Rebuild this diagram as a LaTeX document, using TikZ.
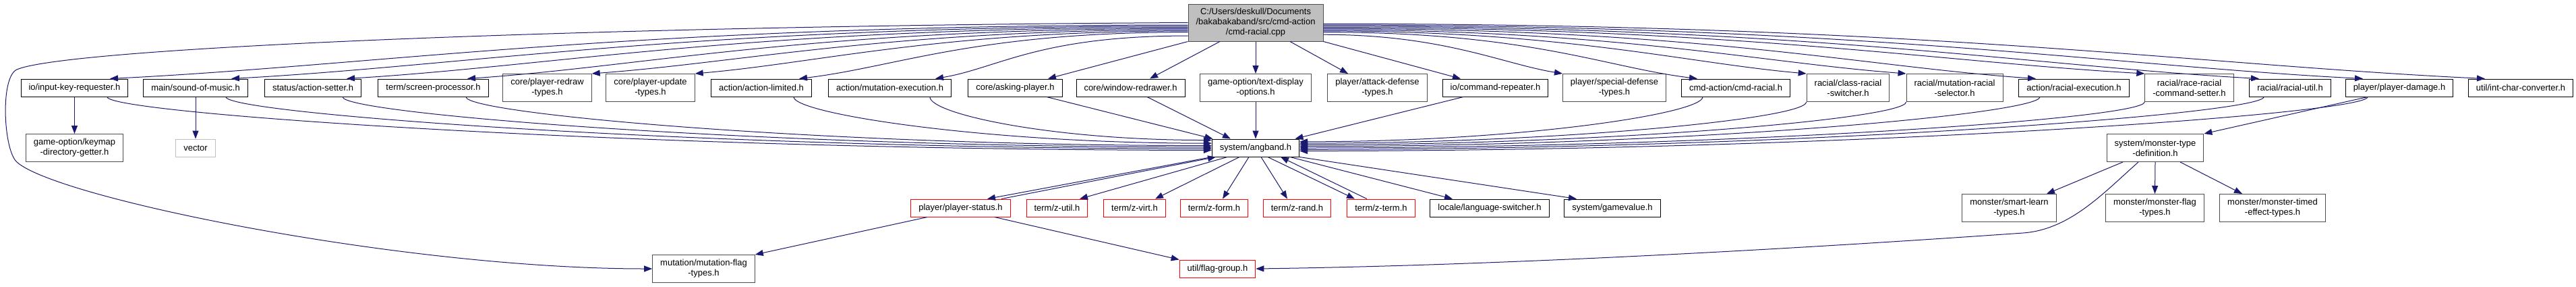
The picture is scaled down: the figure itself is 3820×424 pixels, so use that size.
\documentclass[tikz,border=0pt]{standalone}
\usepackage{fontspec}
\setmainfont{Liberation Sans}
\usetikzlibrary{arrows.meta,calc}

\definecolor{edgeblue}{HTML}{191970}
\definecolor{boxgray}{HTML}{BFBFBF}

\tikzset{
  file/.style={draw=black, fill=white, line width=1pt, inner xsep=11.5pt, inner ysep=2pt,
    minimum height=26pt, align=center, font=\fontsize{13}{15}\selectfont},
  file2/.style={file, draw=black!70, minimum height=41pt},
  trunc/.style={file, draw=red},
  sysfile/.style={file, draw=boxgray},
  dep/.style={draw=edgeblue, line width=1pt, -{Triangle[length=12pt,width=9pt]}},
}

\begin{document}
\begin{tikzpicture}[x=1pt, y=-1pt]
  \fill[white] (0,0) rectangle (3820,424);
  \useasboundingbox (0,0) rectangle (3820,424);

  % the source file
  \node[file, fill=boxgray, draw=black!70, minimum height=55pt] (src) at (1862,33.5)
    {C:/Users/deskull/Documents\\/bakabakaband/src/cmd-action\\/cmd-racial.cpp};

  % direct includes
  \node[file]  (ikr) at (110.5,130) {io/input-key-requester.h};
  \node[file]  (som) at (290,130)   {main/sound-of-music.h};
  \node[file]  (ase) at (464,130)   {status/action-setter.h};
  \node[file]  (scp) at (642.5,130) {term/screen-processor.h};
  \node[file2] (prt) at (811.5,130) {core/player-redraw\\-types.h};
  \node[file2] (put) at (964.5,130) {core/player-update\\-types.h};
  \node[file]  (alm) at (1129,130)  {action/action-limited.h};
  \node[file]  (mex) at (1319.5,130) {action/mutation-execution.h};
  \node[file]  (ask) at (1505.5,130) {core/asking-player.h};
  \node[file]  (wrd) at (1676.5,130) {core/window-redrawer.h};
  \node[file2] (tdo) at (1862,130)  {game-option/text-display\\-options.h};
  \node[file2] (adt) at (2042.5,130) {player/attack-defense\\-types.h};
  \node[file]  (crp) at (2217.5,130) {io/command-repeater.h};
  \node[file2] (sdt) at (2394,130)  {player/special-defense\\-types.h};
  \node[file]  (cra) at (2574,130)  {cmd-action/cmd-racial.h};
  \node[file2] (crs) at (2740.5,130) {racial/class-racial\\-switcher.h};
  \node[file2] (mrs) at (2898.5,130) {racial/mutation-racial\\-selector.h};
  \node[file]  (rex) at (3075.5,130) {action/racial-execution.h};
  \node[file2] (rrc) at (3246.5,130) {racial/race-racial\\-command-setter.h};
  \node[file]  (rut) at (3396,130)  {racial/racial-util.h};
  \node[file]  (pdm) at (3558,130)  {player/player-damage.h};
  \node[file]  (icc) at (3738,130)  {util/int-char-converter.h};

  % second level
  \node[file2]   (kdg) at (110.5,219) {game-option/keymap\\-directory-getter.h};
  \node[sysfile] (vec) at (290,219)   {vector};
  \node[file]    (ang) at (1862,219)  {system/angband.h};
  \node[file2]   (mtd) at (3196,219)  {system/monster-type\\-definition.h};

  % third level
  \node[trunc] (pst) at (1424.5,308) {player/player-status.h};
  \node[trunc] (zut) at (1567.5,308) {term/z-util.h};
  \node[trunc] (zvi) at (1682.5,308) {term/z-virt.h};
  \node[trunc] (zfo) at (1800.5,308) {term/z-form.h};
  \node[trunc] (zra) at (1923.5,308) {term/z-rand.h};
  \node[trunc] (zte) at (2048,308)   {term/z-term.h};
  \node[file]  (lsw) at (2209,308)   {locale/language-switcher.h};
  \node[file]  (gmv) at (2391,308)   {system/gamevalue.h};
  \node[file2] (slt) at (2979.5,308) {monster/smart-learn\\-types.h};
  \node[file2] (mft) at (3195.5,308) {monster/monster-flag\\-types.h};
  \node[file2] (mte) at (3370,308)   {monster/monster-timed\\-effect-types.h};

  % bottom
  \node[file2] (mfl) at (1043.5,398) {mutation/mutation-flag\\-types.h};
  \node[trunc] (fgr) at (1805.5,398) {util/flag-group.h};

  % edges from the source file
  \foreach \nd/\an/\bn/\dx in {ikr/182/north/52.5, som/183/north/53, ase/184/north/50,
      scp/185/north/50.5, prt/186/north east/0, put/187/north east/0, alm/188/north/56,
      mex/191/north/67.5, sdt/350/north west/0, cra/352/north/-57, crs/353/north west/0,
      mrs/354/north west/0, rex/355/north/-56.5, rrc/356/north west/0, rut/357/north/-46,
      pdm/358/north/-54, icc/359/north/-53}
    \draw[dep] (src.\an) .. controls ($(src.\an)!0.5!(\nd.\bn |- src.\an)$)
      and ($([xshift=\dx pt]\nd.\bn)!0.25!(src.\an)$) .. ([xshift=\dx pt]\nd.\bn);
  \draw[dep] (src.south west) -- ([xshift=48.5pt]ask.north);
  \draw[dep] ([xshift=-53pt]src.south) -- ([xshift=28.5pt]wrd.north);
  \draw[dep] (src.south) -- (tdo.north);
  \draw[dep] ([xshift=51pt]src.south) -- ([xshift=-43.5pt]adt.north);
  \draw[dep] (src.south east) -- ([xshift=-51.5pt]crp.north);
  % long way round to mutation/mutation-flag-types.h
  \draw[dep] (src.180) .. controls (900,38) and (100,70) .. (25,103)
    .. controls (0,114) and (5,222) .. (25,240)
    .. controls (85,294) and (600,398) .. (mfl.west);

  % edges into system/angband.h
  \foreach \nd/\bn/\dx/\an in {ikr/south/48.5/183, som/south/45/181, ase/south/44/179,
      scp/south/48.5/177, alm/south/48/174, mex/south/59.5/170, cra/south/-49/8,
      crs/south west/0/6, mrs/south west/0/4, rex/south/-50.5/2, rrc/south west/0/0,
      rut/south/-39/358, pdm/south/-47/356}
    \draw[dep] ([xshift=\dx pt]\nd.\bn) .. controls ($([xshift=\dx pt]\nd.\bn)+(0,25)$)
      and ($(ang.\an)!0.5!(\nd.\bn |- ang.\an)$) .. (ang.\an);
  \draw[dep] ([xshift=46.5pt]ask.south) -- (ang.168);
  \draw[dep] ([xshift=24.5pt]wrd.south) -- (ang.160);
  \draw[dep] (tdo.south) -- (ang.north);
  \draw[dep] ([xshift=-47.5pt]crp.south) -- (ang.13);

  % other first level edges
  \draw[dep] (ikr.south) -- (kdg.north);
  \draw[dep] (som.south) -- (vec.north);
  \draw[dep] ([xshift=-47pt]pdm.south) -- (mtd.north east);

  % edges out of system/angband.h
  \draw[dep] (ang.south west) -- ([xshift=39.5pt]pst.north);
  \draw[dep] ([xshift=60.5pt]pst.north) -- ([xshift=-59pt]ang.south);
  \foreach \dx/\nd/\ex in {-42/zut/33.5, -24/zvi/30.5, -10/zfo/12.5, 8/zra/-14.5,
      18/zte/-39, 51/lsw/-55}
    \draw[dep] ([xshift=\dx pt]ang.south) -- ([xshift=\ex pt]\nd.north);
  \draw[dep] ([xshift=-21pt]zte.north) -- ([xshift=37pt]ang.south);
  \draw[dep] (ang.south east) -- ([xshift=-53pt]gmv.north);

  % edges out of system/monster-type-definition.h
  \draw[dep] ([xshift=-48pt]mtd.south) -- ([xshift=55.5pt]slt.north);
  \draw[dep] (mtd.south) -- (mft.north);
  \draw[dep] ([xshift=37pt]mtd.south) -- ([xshift=-45pt]mte.north);
  \draw[dep] ([xshift=-25pt]mtd.south) .. controls (3120,285) and (3070,340) .. (3000,345)
    .. controls (2800,359) and (2300,392) .. (fgr.east);

  % edges out of player/player-status.h
  \draw[dep] ([xshift=-49.5pt]pst.south) -- (mfl.north east);
  \draw[dep] ([xshift=50.5pt]pst.south) -- (fgr.north west);
\end{tikzpicture}
\end{document}
